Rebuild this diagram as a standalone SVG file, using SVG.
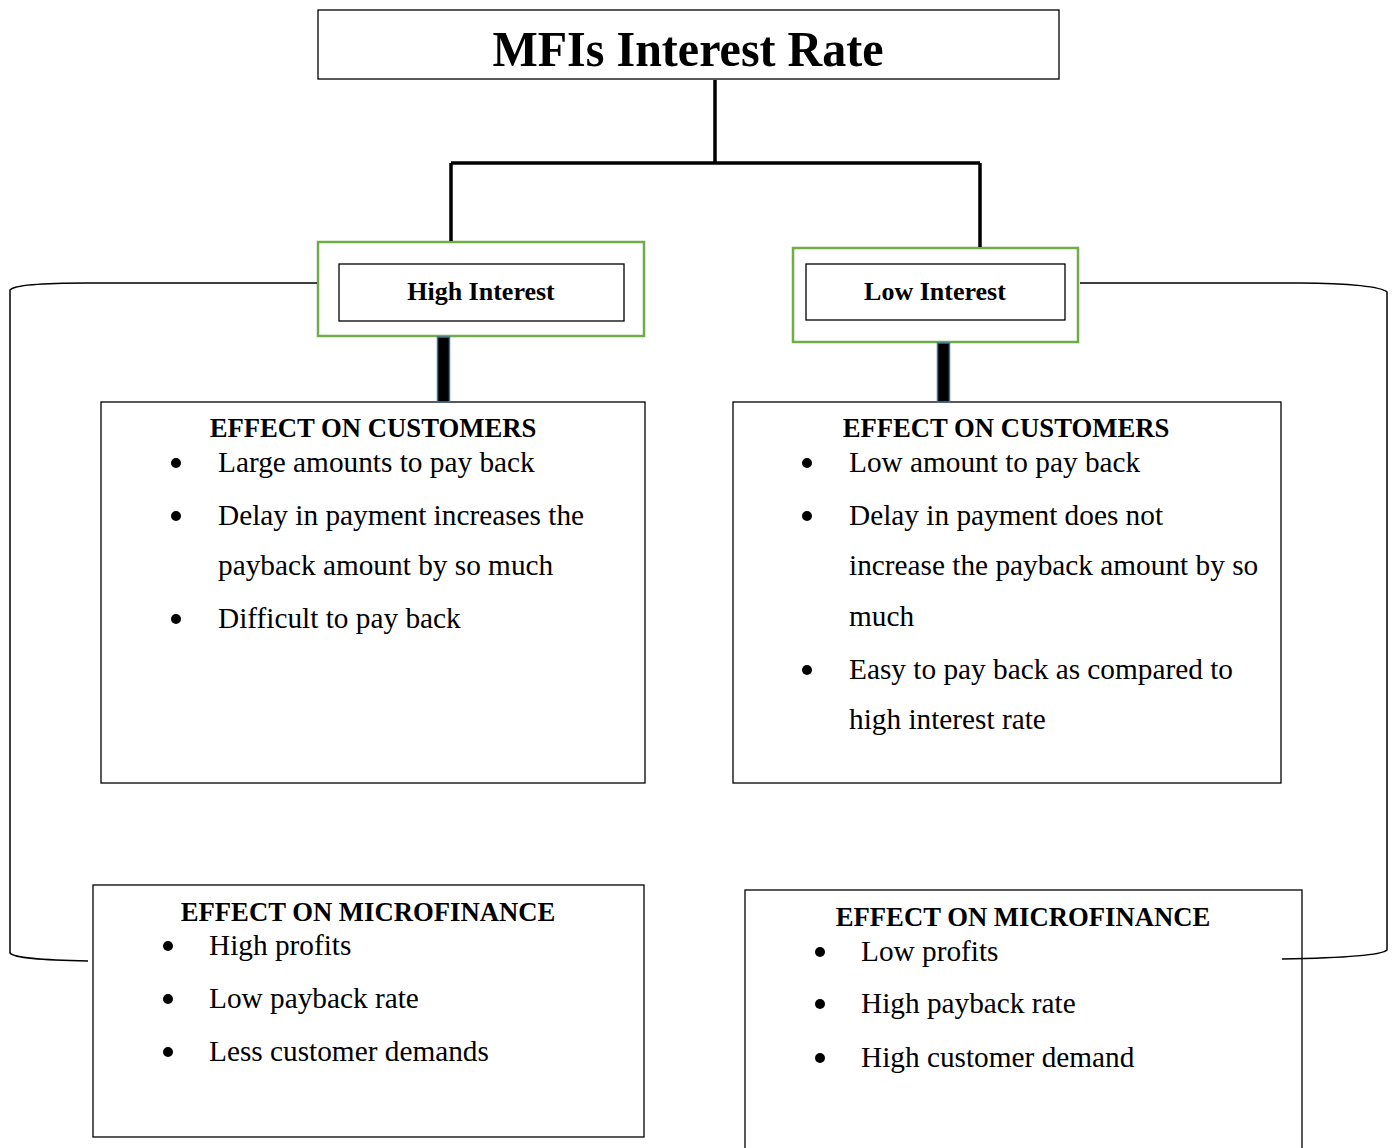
<svg xmlns="http://www.w3.org/2000/svg" width="1392" height="1148" viewBox="0 0 1392 1148">
<style>
.box{fill:#fff;stroke:#000;stroke-width:1.3}
.gbox{fill:#fff;stroke:#70ad47;stroke-width:2.5}
.title{font-family:"Liberation Serif",serif;font-weight:bold;font-size:50px;fill:#000}
.lbl{font-family:"Liberation Serif",serif;font-weight:bold;font-size:26px;fill:#000}
.head{font-family:"Liberation Serif",serif;font-weight:bold;font-size:26.7px;fill:#000}
.txt{font-family:"Liberation Serif",serif;font-size:29.3px;fill:#000}
.conn{fill:none;stroke:#000;stroke-width:3.5}
.thin{fill:none;stroke:#000;stroke-width:1.5}
.thick{fill:#000;stroke:#41719c;stroke-width:1.5}
.dot{fill:#000}
</style>
<rect width="1392" height="1148" fill="#fff"/>
<g id="title">
<rect class="box" x="318" y="10" width="741" height="69"/>
<text class="title" x="688" y="66" text-anchor="middle" textLength="391" lengthAdjust="spacingAndGlyphs">MFIs Interest Rate</text>
</g>
<g id="high-interest">
<rect class="gbox" x="318" y="242" width="326" height="94"/>
<rect class="box" x="339" y="264" width="285" height="57"/>
<text class="lbl" x="481" y="300" text-anchor="middle">High Interest</text>
</g>
<g id="low-interest">
<rect class="gbox" x="793" y="248" width="285" height="94"/>
<rect class="box" x="806" y="264" width="259" height="56"/>
<text class="lbl" x="935" y="300" text-anchor="middle">Low Interest</text>
</g>
<g id="high-customers">
<rect class="box" x="101" y="402" width="544" height="381"/>
<text class="head" x="373" y="437" text-anchor="middle">EFFECT ON CUSTOMERS</text>
<circle class="dot" cx="176" cy="463" r="5"/>
<circle class="dot" cx="176" cy="516" r="5"/>
<circle class="dot" cx="176" cy="619" r="5"/>
<text class="txt" x="218" y="472">Large amounts to pay back</text>
<text class="txt" x="218" y="525">Delay in payment increases the</text>
<text class="txt" x="218" y="575">payback amount by so much</text>
<text class="txt" x="218" y="628">Difficult to pay back</text>
</g>
<g id="low-customers">
<rect class="box" x="733" y="402" width="548" height="381"/>
<text class="head" x="1006" y="437" text-anchor="middle">EFFECT ON CUSTOMERS</text>
<circle class="dot" cx="807" cy="463" r="5"/>
<circle class="dot" cx="807" cy="516" r="5"/>
<circle class="dot" cx="807" cy="670" r="5"/>
<text class="txt" x="849" y="472">Low amount to pay back</text>
<text class="txt" x="849" y="525">Delay in payment does not</text>
<text class="txt" x="849" y="575">increase the payback amount by so</text>
<text class="txt" x="849" y="626">much</text>
<text class="txt" x="849" y="679">Easy to pay back as compared to</text>
<text class="txt" x="849" y="729">high interest rate</text>
</g>
<g id="high-microfinance">
<rect class="box" x="93" y="885" width="551" height="252"/>
<text class="head" x="368" y="921" text-anchor="middle">EFFECT ON MICROFINANCE</text>
<circle class="dot" cx="168" cy="946" r="5"/>
<circle class="dot" cx="168" cy="999" r="5"/>
<circle class="dot" cx="168" cy="1052" r="5"/>
<text class="txt" x="209" y="955">High profits</text>
<text class="txt" x="209" y="1008">Low payback rate</text>
<text class="txt" x="209" y="1061">Less customer demands</text>
</g>
<g id="low-microfinance">
<rect class="box" x="745" y="890" width="557" height="270"/>
<text class="head" x="1023" y="926" text-anchor="middle">EFFECT ON MICROFINANCE</text>
<circle class="dot" cx="820" cy="952" r="5"/>
<circle class="dot" cx="820" cy="1004" r="5"/>
<circle class="dot" cx="820" cy="1058" r="5"/>
<text class="txt" x="861" y="961">Low profits</text>
<text class="txt" x="861" y="1013">High payback rate</text>
<text class="txt" x="861" y="1067">High customer demand</text>
</g>
<g id="connectors">
<path class="conn" d="M715 80 V163 M451 163 H980 M451 163 V241 M980 163 V247"/>
<rect class="thick" x="437.5" y="337" width="12" height="65"/>
<rect class="thick" x="937.5" y="343" width="12" height="59"/>
<path class="thin" d="M317 283 H88 C40 283 14 285 10 290 V953 C14 958 40 960 88 961"/>
<path class="thin" d="M1080 283 H1300 C1350 283 1382 287 1387 292 V950 C1382 955 1340 958 1282 959"/>
</g>
</svg>
